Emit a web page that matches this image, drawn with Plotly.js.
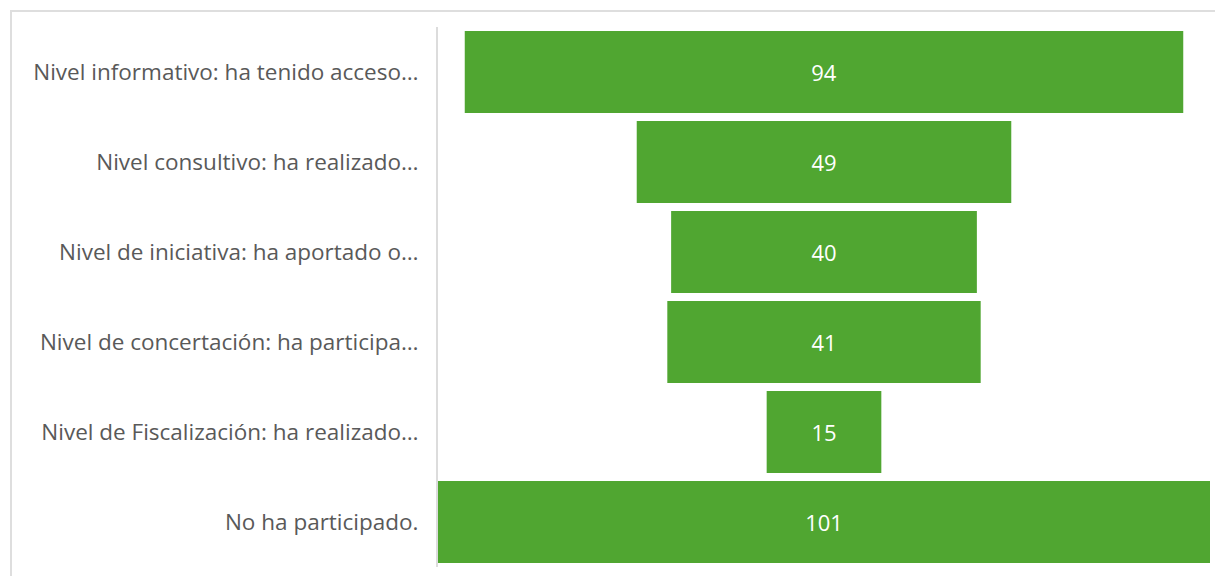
<!DOCTYPE html>
<html>
<head>
<meta charset="utf-8">
<script src="https://cdn.plot.ly/plotly-3.0.1.min.js"></script>
<style>
  html, body { margin: 0; padding: 0; background: #fff; }
  #wrap { position: relative; width: 1215px; height: 576px; }
  #chart { position: absolute; left: 0; top: 0; width: 1215px; height: 576px; }
  #frame { position: absolute; left: 10px; top: 10px; right: 0; bottom: 0;
           border-top: 2px solid #dedede; border-left: 2px solid #dedede; pointer-events: none; }
</style>
</head>
<body>
<div id="wrap">
  <div id="chart"></div>
  <div id="frame"></div>
</div>
<script>
const categories = [
  "Nivel informativo: ha tenido acceso…",
  "Nivel consultivo: ha realizado…",
  "Nivel de iniciativa: ha aportado o…",
  "Nivel de concertación: ha participa…",
  "Nivel de Fiscalización: ha realizado…",
  "No ha participado."
];
const values = [94, 49, 40, 41, 15, 101];

const trace = {
  type: 'funnel',
  y: categories,
  x: values,
  textinfo: 'value',
  textposition: 'inside',
  insidetextanchor: 'middle',
  constraintext: 'none',
  textfont: { color: '#ffffff', size: 22, family: 'Open Sans, Noto Sans, sans-serif' },
  marker: { color: '#50a631', line: { width: 0 } },
  connector: { visible: false },
  hoverinfo: 'y+x'
};

const layout = {
  width: 1215,
  height: 576,
  margin: { l: 438, r: 5, t: 27, b: 9 },
  paper_bgcolor: '#ffffff',
  plot_bgcolor: '#ffffff',
  showlegend: false,
  funnelgap: 0.09,
  font: { family: 'Open Sans, Noto Sans, sans-serif', color: '#555555', size: 22 },
  xaxis: { range: [-50.5, 50.5], visible: false, fixedrange: true },
  yaxis: {
    showline: true,
    linecolor: '#dcdcdc',
    linewidth: 2,
    showgrid: false,
    zeroline: false,
    ticks: 'outside',
    ticklen: 13,
    tickcolor: 'rgba(0,0,0,0)',
    tickfont: { size: 22.5, color: '#595959' },
    fixedrange: true
  }
};

Plotly.newPlot('chart', [trace], layout, { displayModeBar: false, staticPlot: true });
</script>
</body>
</html>
